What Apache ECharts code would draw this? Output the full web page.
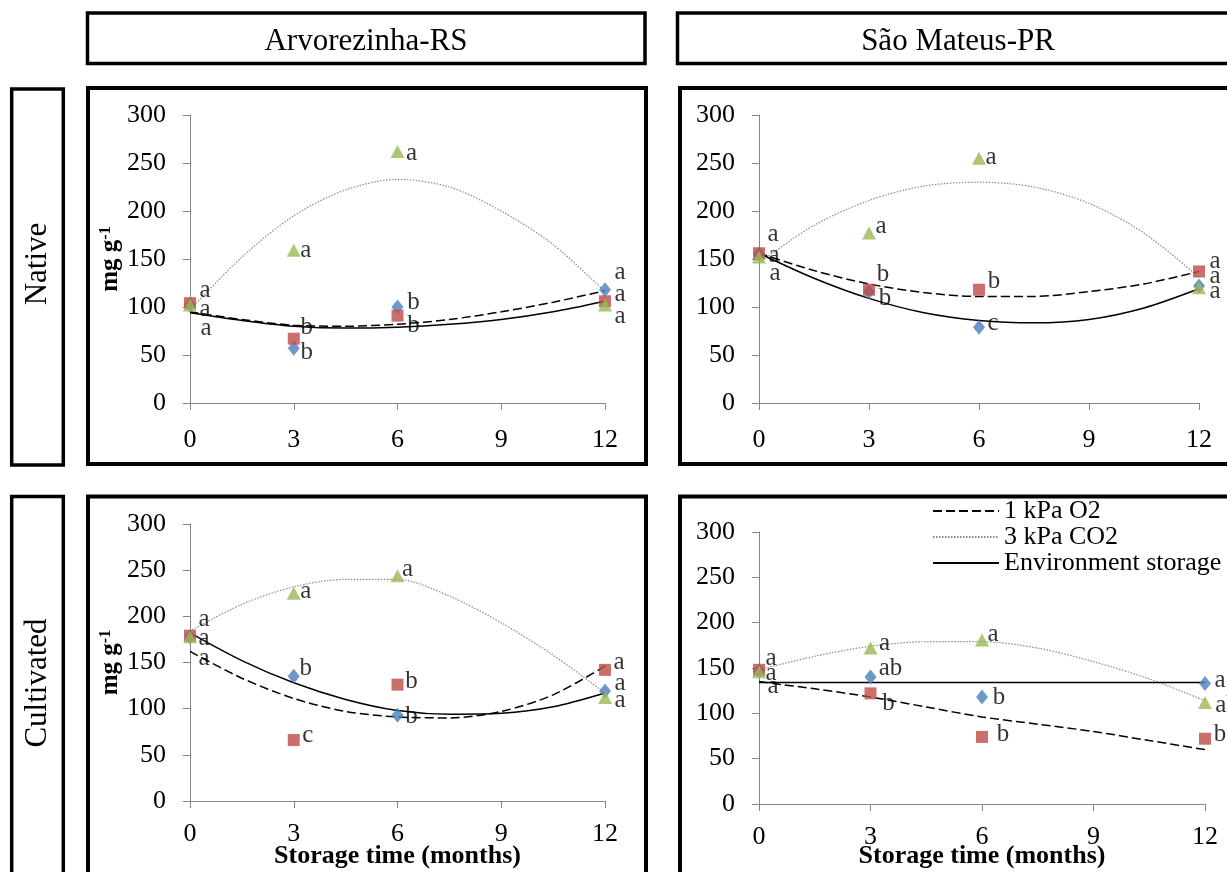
<!DOCTYPE html>
<html>
<head>
<meta charset="utf-8">
<script src="https://cdn.jsdelivr.net/npm/echarts@6/dist/echarts.min.js"></script>
<style>
  html, body { margin: 0; padding: 0; background: #fff; }
  #div1 { width: 1227px; height: 872px; }
</style>
</head>
<body>
<div id="div1"></div>
<script>
// eixos
var months = [0, 3, 6, 12];
var trendMonths = [0, 1.5, 3, 4.5, 6, 7.5, 9, 10.5, 12];
var xTicks = [0, 3, 6, 9, 12];
var yTicks = [0, 50, 100, 150, 200, 250, 300];
var siteNames = ['Arvorezinha-RS', 'São Mateus-PR'];
var rowNames = ['Native', 'Cultivated'];
var lineNames = ['1 kPa O2', '3 kPa CO2', 'Environment storage'];

// Arvorezinha-RS / Native
var arvNatEnv = [102, 57, 100, 118];
var arvNatO2 = [104, 67, 91, 106];
var arvNatCo2 = [102, 159, 262, 102];
var arvNatEnvTxt = ['a', 'b', 'b', 'a'];
var arvNatO2Txt = ['a', 'b', 'b', 'a'];
var arvNatCo2Txt = ['a', 'a', 'a', 'a'];
var arvNatO2Fit = [95, 87, 81, 80, 82, 87, 95, 105, 117];
var arvNatCo2Fit = [97, 152, 195, 222, 233, 225, 200, 165, 116];
var arvNatEnvFit = [94, 86, 80, 78, 79, 82, 87, 95, 106];

// Sao Mateus-PR / Native
var saoNatEnv = [155, 116, 79, 122];
var saoNatO2 = [156, 118, 118, 137];
var saoNatCo2 = [152, 177, 255, 120];
var saoNatEnvTxt = ['a', 'b', 'c', 'a'];
var saoNatO2Txt = ['a', 'b', 'b', 'a'];
var saoNatCo2Txt = ['a', 'a', 'a', 'a'];
var saoNatO2Fit = [156, 138, 124, 115, 111, 111, 116, 124, 137];
var saoNatCo2Fit = [146, 185, 211, 226, 230, 225, 208, 177, 131];
var saoNatEnvFit = [156, 130, 109, 94, 86, 83.5, 87, 99, 119];

// Arvorezinha-RS / Cultivated
var arvCulEnv = [178, 135, 93, 119];
var arvCulO2 = [179, 66, 126, 142];
var arvCulCo2 = [178, 225, 244, 112];
var arvCulEnvTxt = ['a', 'b', 'b', 'a'];
var arvCulO2Txt = ['a', 'c', 'b', 'a'];
var arvCulCo2Txt = ['a', 'a', 'a', 'a'];
var arvCulO2Fit = [162, 133, 111, 97, 91, 90, 97, 115, 146];
var arvCulCo2Fit = [184, 213, 232, 240, 240, 222, 193, 158, 117];
var arvCulEnvFit = [182, 152, 128, 110, 98, 94, 95, 102, 117];

// Sao Mateus-PR / Cultivated
var saoCulEnv = [147, 140, 118, 133];
var saoCulO2 = [148, 122, 74, 72];
var saoCulCo2 = [146, 172, 181, 112];
var saoCulEnvTxt = ['a', 'ab', 'b', 'a'];
var saoCulO2Txt = ['a', 'b', 'b', 'b'];
var saoCulCo2Txt = ['a', 'a', 'a', 'ab'];
var saoCulO2Fit = [135, 127, 118, 107, 96, 88, 80, 70, 60];
var saoCulCo2Fit = [148, 163, 174, 179, 179, 172, 157, 138, 114];
var saoCulEnvFit = [134, 134, 134, 134, 134, 134, 134, 134, 134];

(function () {
  var font = '"Liberation Serif", "Times New Roman", serif';
  var myChart = echarts.init(document.getElementById('div1'), null, { renderer: 'canvas' });

  var panels = [
    { env: arvNatEnv, o2: arvNatO2, co2: arvNatCo2, envTxt: arvNatEnvTxt, o2Txt: arvNatO2Txt, co2Txt: arvNatCo2Txt,
      o2Fit: arvNatO2Fit, co2Fit: arvNatCo2Fit, envFit: arvNatEnvFit },
    { env: saoNatEnv, o2: saoNatO2, co2: saoNatCo2, envTxt: saoNatEnvTxt, o2Txt: saoNatO2Txt, co2Txt: saoNatCo2Txt,
      o2Fit: saoNatO2Fit, co2Fit: saoNatCo2Fit, envFit: saoNatEnvFit },
    { env: arvCulEnv, o2: arvCulO2, co2: arvCulCo2, envTxt: arvCulEnvTxt, o2Txt: arvCulO2Txt, co2Txt: arvCulCo2Txt,
      o2Fit: arvCulO2Fit, co2Fit: arvCulCo2Fit, envFit: arvCulEnvFit },
    { env: saoCulEnv, o2: saoCulO2, co2: saoCulCo2, envTxt: saoCulEnvTxt, o2Txt: saoCulO2Txt, co2Txt: saoCulCo2Txt,
      o2Fit: saoCulO2Fit, co2Fit: saoCulCo2Fit, envFit: saoCulEnvFit }
  ];

  // posicao das letras (dx, dy) em relacao ao marcador
  var offsets = [
    { env: [[15, -15], [13, 4], [16, -5], [15, -17]],
      o2: [[15, 6], [13, -11], [16, 10], [15, -7]],
      co2: [[16, 23], [12, 0], [14, 2], [15, 11]] },
    { env: [[14, -20], [16, 7], [14, -4], [16, -9]],
      o2: [[15, 2], [14, -15], [15, -8], [16, -10]],
      co2: [[16, 16], [12, -7], [12, -1], [16, 4]] },
    { env: [[14, -17], [12, -8], [14, 1], [15, -8]],
      o2: [[14, 3], [14, -5], [14, -3], [14, -7]],
      co2: [[14, 22], [12, -2], [10, -6], [15, 3]] },
    { env: [[12, -12], [20, -9], [17, 0], [15, -3]],
      o2: [[12, 4], [18, 10], [21, -2], [15, -4]],
      co2: [[14, 15], [14, -5], [11, -5], [22, 3]] }
  ];

  var grids = [
    { left: 190, top: 115, width: 415, height: 288, outerBoundsMode: 'none' },
    { left: 759, top: 115, width: 440, height: 288, outerBoundsMode: 'none' },
    { left: 190, top: 524, width: 415, height: 277, outerBoundsMode: 'none' },
    { left: 759, top: 532, width: 446, height: 272, outerBoundsMode: 'none' }
  ];

  var axisColor = '#868686';
  var xAxis = [], yAxis = [], series = [];

  function pts(vals, txt, offs) {
    return vals.map(function (v, i) {
      return { value: [months[i], v], label: { formatter: txt[i], offset: offs[i] } };
    });
  }
  function fit(vals) {
    return vals.map(function (v, i) { return [trendMonths[i], v]; });
  }

  panels.forEach(function (p, i) {
    var bottomRow = i >= 2;
    var leftCol = i % 2 === 0;
    var gBottom = grids[i].top + grids[i].height;
    xAxis.push({
      gridIndex: i, type: 'value',
      min: xTicks[0], max: xTicks[xTicks.length - 1], interval: xTicks[1] - xTicks[0],
      name: bottomRow ? 'Storage time (months)' : '',
      nameLocation: 'middle', nameGap: 843 - gBottom, nameMoveOverlap: false,
      nameTextStyle: { fontFamily: font, fontSize: 26, fontWeight: 'bold', color: '#000' },
      axisLine: { lineStyle: { color: axisColor, width: 1 } },
      axisTick: { length: 7, lineStyle: { color: axisColor } },
      axisLabel: { fontFamily: font, fontSize: 26, color: '#000', margin: bottomRow ? 20 : 24 },
      splitLine: { show: false }
    });
    yAxis.push({
      gridIndex: i, type: 'value',
      min: yTicks[0], max: yTicks[yTicks.length - 1], interval: yTicks[1] - yTicks[0],
      name: leftCol ? '{m|mg g}{s|-1}' : '',
      nameLocation: 'middle', nameRotate: 90, nameGap: 64,
      nameTextStyle: {
        rich: {
          m: { fontFamily: font, fontSize: 25, fontWeight: 'bold', color: '#000' },
          s: { fontFamily: font, fontSize: 16, fontWeight: 'bold', color: '#000', verticalAlign: 'top' }
        }
      },
      axisLine: { show: true, lineStyle: { color: axisColor, width: 1 } },
      axisTick: { show: true, length: 7, lineStyle: { color: axisColor } },
      axisLabel: { fontFamily: font, fontSize: 26, color: '#000', margin: 24 },
      splitLine: { show: false }
    });

    series.push({
      name: lineNames[0], type: 'line', xAxisIndex: i, yAxisIndex: i,
      data: fit(p.o2Fit), smooth: 0.3, symbol: 'none', color: '#000',
      lineStyle: { color: '#000', width: 1.5, type: [9, 4] }, z: 2
    });
    series.push({
      name: lineNames[1], type: 'line', xAxisIndex: i, yAxisIndex: i,
      data: fit(p.co2Fit), smooth: 0.3, symbol: 'none', color: '#8a8a8a',
      lineStyle: { color: '#8a8a8a', width: 1.2, type: [1.5, 1.5] }, z: 2
    });
    series.push({
      name: lineNames[2], type: 'line', xAxisIndex: i, yAxisIndex: i,
      data: fit(p.envFit), smooth: 0.3, symbol: 'none', color: '#000',
      lineStyle: { color: '#000', width: 1.5 }, z: 2
    });

    var lab = { show: true, position: 'inside', color: '#000', fontFamily: font, fontSize: 25 };
    series.push({
      type: 'scatter', xAxisIndex: i, yAxisIndex: i, symbol: 'diamond', symbolSize: [12, 15],
      itemStyle: { color: '#4A7EBB' }, label: lab, data: pts(p.env, p.envTxt, offsets[i].env), z: 3
    });
    series.push({
      type: 'scatter', xAxisIndex: i, yAxisIndex: i, symbol: 'rect', symbolSize: 12,
      itemStyle: { color: '#BE4B48' }, label: lab, data: pts(p.o2, p.o2Txt, offsets[i].o2), z: 3
    });
    series.push({
      type: 'scatter', xAxisIndex: i, yAxisIndex: i, symbol: 'triangle', symbolSize: [14, 13],
      itemStyle: { color: '#98B954' }, label: lab, data: pts(p.co2, p.co2Txt, offsets[i].co2), z: 3
    });
  });

  function box(x, y, w, h, lw) {
    return { type: 'rect', shape: { x: x, y: y, width: w, height: h },
      style: { fill: 'none', stroke: '#000', lineWidth: lw }, silent: true };
  }
  function txt(s, x, y, rot) {
    return { type: 'text', x: x, y: y, rotation: rot || 0,
      style: { text: s, font: '31px ' + font, fill: '#000', align: 'center', verticalAlign: 'middle' }, silent: true };
  }

  var graphics = [
    box(87.5, 13, 557.5, 50.5, 3.5),
    box(677.5, 13, 600, 50.5, 3.5),
    txt(siteNames[0], 366, 42),
    txt(siteNames[1], 958, 42),
    box(11.7, 89, 51.6, 376, 3.5),
    box(11.7, 496.5, 51.6, 420, 3.5),
    txt(rowNames[0], 38, 264, Math.PI / 2),
    txt(rowNames[1], 38, 683, Math.PI / 2),
    box(88, 88, 558, 376, 4),
    box(680, 88, 600, 376, 4),
    box(88, 496.5, 558, 420, 4),
    box(680, 496.5, 600, 420, 4)
  ];

  var option = {
    animation: false,
    backgroundColor: '#fff',
    grid: grids,
    xAxis: xAxis,
    yAxis: yAxis,
    legend: {
      data: lineNames, orient: 'vertical', left: 927, top: 493,
      itemWidth: 66, itemHeight: 14, itemGap: 0, selectedMode: false,
      textStyle: { fontFamily: font, fontSize: 26, color: '#000', lineHeight: 26 },
      itemStyle: { color: 'rgba(0,0,0,0)', borderColor: 'rgba(0,0,0,0)', borderWidth: 0 }
    },
    graphic: { elements: graphics },
    series: series
  };
  myChart.setOption(option);
})();
</script>
</body>
</html>
